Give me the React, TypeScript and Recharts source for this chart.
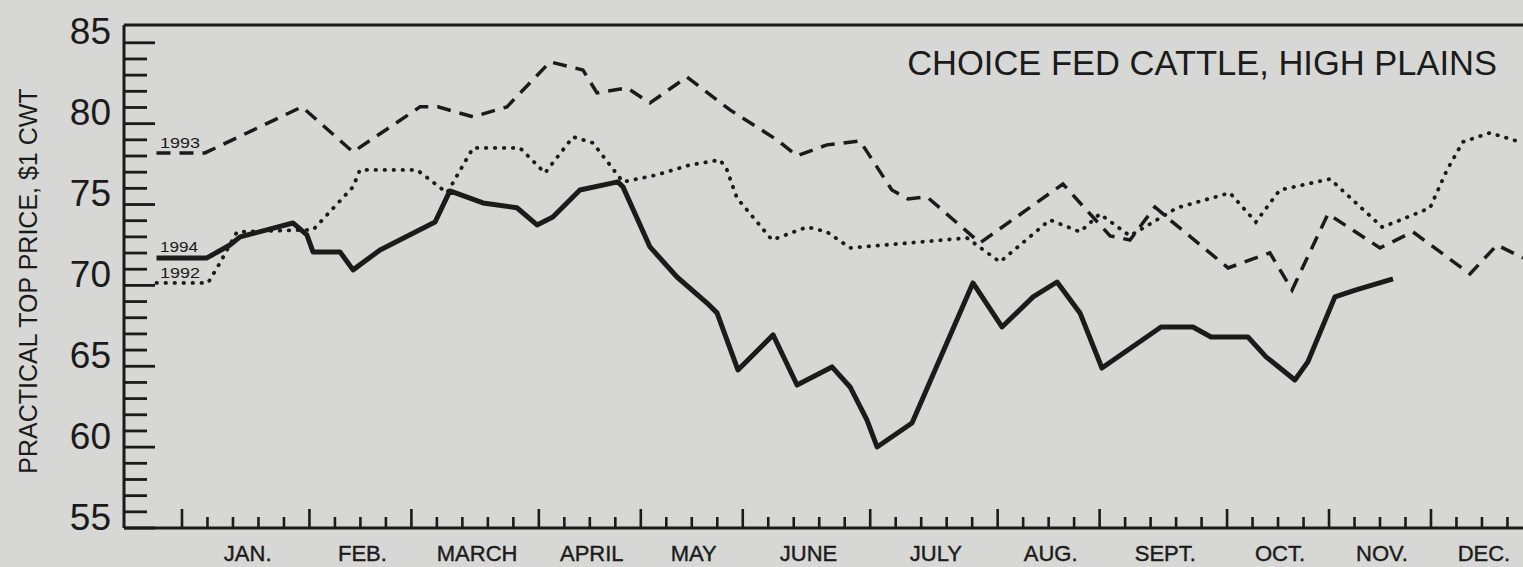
import React from "react";
import { LineChart, Line, XAxis, YAxis, ReferenceLine } from "recharts";

const INK = "#1b1b1b";
const PAPER = "#d7d7d5";
const FONT = "'Liberation Sans', Arial, sans-serif";

// w = week index (0 = first week of January), p = practical top price, $/cwt
const prices1994 = [
  { w: -1, p: 71.7 }, { w: 0.98, p: 71.7 }, { w: 1.88, p: 72.5 }, { w: 2.28, p: 73.0 },
  { w: 4.35, p: 73.86 }, { w: 4.9, p: 73.12 }, { w: 5.14, p: 72.07 }, { w: 6.2, p: 72.07 },
  { w: 6.71, p: 70.96 }, { w: 7.77, p: 72.19 }, { w: 9.93, p: 73.92 }, { w: 10.51, p: 75.84 },
  { w: 11.81, p: 75.1 }, { w: 13.14, p: 74.8 }, { w: 13.93, p: 73.74 }, { w: 14.55, p: 74.23 },
  { w: 15.61, p: 75.9 }, { w: 17.1, p: 76.4 }, { w: 17.3, p: 76.09 }, { w: 18.36, p: 72.38 },
  { w: 19.42, p: 70.52 }, { w: 20.6, p: 68.91 }, { w: 20.99, p: 68.3 }, { w: 21.81, p: 64.77 },
  { w: 23.19, p: 66.94 }, { w: 24.13, p: 63.84 }, { w: 25.5, p: 64.96 }, { w: 26.21, p: 63.72 },
  { w: 26.87, p: 61.68 }, { w: 27.27, p: 60.01 }, { w: 28.64, p: 61.49 }, { w: 31.03, p: 70.15 },
  { w: 32.17, p: 67.43 }, { w: 33.39, p: 69.29 }, { w: 34.33, p: 70.21 }, { w: 35.23, p: 68.3 },
  { w: 36.09, p: 64.89 }, { w: 38.41, p: 67.43 }, { w: 39.66, p: 67.43 }, { w: 40.37, p: 66.81 },
  { w: 41.82, p: 66.81 }, { w: 42.53, p: 65.58 }, { w: 43.66, p: 64.15 }, { w: 44.17, p: 65.27 },
  { w: 45.23, p: 69.29 }, { w: 46.06, p: 69.72 }, { w: 47.51, p: 70.4 },
];

const prices1993 = [
  { w: -1, p: 78.19 }, { w: 0.9, p: 78.19 }, { w: 4.71, p: 81.04 }, { w: 6.71, p: 78.25 },
  { w: 9.34, p: 81.04 }, { w: 10.04, p: 81.04 }, { w: 11.42, p: 80.42 }, { w: 12.75, p: 81.04 },
  { w: 14.44, p: 83.82 }, { w: 15.73, p: 83.32 }, { w: 16.28, p: 81.9 }, { w: 17.46, p: 82.21 },
  { w: 18.36, p: 81.28 }, { w: 19.81, p: 82.89 }, { w: 21.5, p: 80.85 }, { w: 23.34, p: 79.0 },
  { w: 24.13, p: 78.01 }, { w: 25.3, p: 78.69 }, { w: 26.6, p: 78.93 }, { w: 27.85, p: 75.9 },
  { w: 28.48, p: 75.35 }, { w: 29.23, p: 75.47 }, { w: 31.31, p: 72.63 }, { w: 34.56, p: 76.27 },
  { w: 36.41, p: 73.06 }, { w: 37.19, p: 72.81 }, { w: 38.17, p: 74.85 }, { w: 38.76, p: 74.05 },
  { w: 41.04, p: 71.08 }, { w: 42.68, p: 72.01 }, { w: 43.55, p: 69.72 }, { w: 44.96, p: 74.42 },
  { w: 47.0, p: 72.32 }, { w: 48.29, p: 73.31 }, { w: 50.53, p: 70.71 }, { w: 51.59, p: 72.5 },
  { w: 52.61, p: 71.7 },
];

const prices1992 = [
  { w: -1, p: 70.15 }, { w: 1.02, p: 70.15 }, { w: 1.49, p: 71.39 }, { w: 2.16, p: 73.31 },
  { w: 4.83, p: 73.43 }, { w: 5.14, p: 73.43 }, { w: 6.71, p: 76.09 }, { w: 6.98, p: 77.14 },
  { w: 9.22, p: 77.14 }, { w: 10.4, p: 75.72 }, { w: 11.42, p: 78.5 }, { w: 13.26, p: 78.5 },
  { w: 14.24, p: 76.95 }, { w: 15.34, p: 79.18 }, { w: 16.12, p: 78.81 }, { w: 17.3, p: 76.4 },
  { w: 18.63, p: 76.83 }, { w: 19.93, p: 77.45 }, { w: 21.11, p: 77.76 }, { w: 21.38, p: 77.14 },
  { w: 21.77, p: 75.41 }, { w: 23.15, p: 72.81 }, { w: 24.52, p: 73.61 }, { w: 25.3, p: 73.31 },
  { w: 26.21, p: 72.32 }, { w: 30.8, p: 72.93 }, { w: 32.09, p: 71.45 }, { w: 34.05, p: 74.05 },
  { w: 35.23, p: 73.31 }, { w: 36.01, p: 74.42 }, { w: 37.19, p: 73.06 }, { w: 39.03, p: 74.79 },
  { w: 41.11, p: 75.72 }, { w: 42.13, p: 73.92 }, { w: 43.07, p: 75.9 }, { w: 45.04, p: 76.58 },
  { w: 47.08, p: 73.61 }, { w: 47.51, p: 73.86 }, { w: 48.96, p: 74.79 }, { w: 49.63, p: 77.14 },
  { w: 50.25, p: 78.87 }, { w: 51.31, p: 79.43 }, { w: 52.61, p: 78.81 },
];

const monthNames = ["JAN.", "FEB.", "MARCH", "APRIL", "MAY", "JUNE", "JULY", "AUG.", "SEPT.", "OCT.", "NOV.", "DEC."];
const monthStartWeeks = [0, 5, 9, 14, 18, 22, 27, 32, 36, 41, 45, 49, 53];
const weekTicks = Array.from({ length: 53 }, (_, i) => i);
const priceTicks = Array.from({ length: 31 }, (_, i) => 55 + i);

const monthCenters = monthNames.map((_, i) => (monthStartWeeks[i] + monthStartWeeks[i + 1]) / 2);
const xTicks = Array.from(new Set([...weekTicks, ...monthCenters])).sort((a, b) => a - b);

const YTick = (props: any) => {
  const { x, y, payload } = props;
  const v = payload.value;
  const major = v % 5 === 0;
  return (
    <g>
      <line x1={x} x2={x + (major ? 31 : 23)} y1={y} y2={y} stroke={INK} strokeWidth={2.8} />
      {major && (
        <text x={x - 13} y={y - 11} textAnchor="end" dominantBaseline="central" fontSize={37} fontFamily={FONT} fill={INK}>
          {v}
        </text>
      )}
    </g>
  );
};

const XTick = (props: any) => {
  const { x, y, payload } = props;
  const v = payload.value;
  const isWeek = Number.isInteger(v) && v >= 0 && v <= 52;
  const long = monthStartWeeks.includes(v);
  const mIdx = monthCenters.indexOf(v);
  return (
    <g>
      {isWeek && <line x1={x} x2={x} y1={y} y2={y - (long ? 19 : 11)} stroke={INK} strokeWidth={2.6} />}
      {mIdx >= 0 && (
        <text x={x + 2} y={y + 25} textAnchor="middle" dominantBaseline="central" fontSize={22} fontFamily={FONT} fill={INK} stroke={INK} strokeWidth={0.4}>
          {monthNames[mIdx]}
        </text>
      )}
    </g>
  );
};

export default function App() {
  return (
    <div style={{ position: "absolute", left: 0, top: 0, width: 1523, height: 567, background: PAPER }}>
      <LineChart width={1523} height={567} margin={{ top: 25, right: 0, bottom: 0, left: 0 }}>
        <XAxis
          dataKey="w"
          type="number"
          domain={[-2.275, 52.61]}
          allowDataOverflow
          ticks={xTicks}
          interval={0}
          height={39}
          tickLine={false}
          tickSize={0}
          tickMargin={0}
          tick={<XTick />}
          axisLine={{ stroke: INK, strokeWidth: 3 }}
        />
        <YAxis
          type="number"
          domain={[55, 86.1]}
          allowDataOverflow
          ticks={priceTicks}
          interval={0}
          width={124}
          tickLine={false}
          tickSize={0}
          tickMargin={0}
          tick={<YTick />}
          axisLine={{ stroke: INK, strokeWidth: 3 }}
        />
        <ReferenceLine y={86.1} stroke={INK} strokeWidth={3} />
        <Line data={prices1993} dataKey="p" type="linear" stroke={INK} strokeWidth={3.5} strokeDasharray="14 9" dot={false} activeDot={false} isAnimationActive={false} />
        <Line data={prices1992} dataKey="p" type="linear" stroke={INK} strokeWidth={3.8} strokeDasharray="0.5 8.5" strokeLinecap="round" dot={false} activeDot={false} isAnimationActive={false} />
        <Line data={prices1994} dataKey="p" type="linear" stroke={INK} strokeWidth={5} strokeLinejoin="round" dot={false} activeDot={false} isAnimationActive={false} />
      </LineChart>
      <svg width={1523} height={567} style={{ position: "absolute", left: 0, top: 0, pointerEvents: "none" }}>
        <text x={1497} y={63} textAnchor="end" dominantBaseline="central" fontSize={34.5} fontFamily={FONT} fill={INK}>
          CHOICE FED CATTLE, HIGH PLAINS
        </text>
        <text x={28} y={281} transform="rotate(-90, 28, 281)" textAnchor="middle" dominantBaseline="central" fontSize={25} fontFamily={FONT} fill={INK}>
          PRACTICAL TOP PRICE, $1 CWT
        </text>
        <text x={160} y={142} textLength={40} lengthAdjust="spacingAndGlyphs" dominantBaseline="central" fontSize={15} fontFamily={FONT} fill={INK}>1993</text>
        <text x={160} y={246} textLength={38} lengthAdjust="spacingAndGlyphs" dominantBaseline="central" fontSize={15} fontFamily={FONT} fill={INK}>1994</text>
        <text x={160} y={272} textLength={40} lengthAdjust="spacingAndGlyphs" dominantBaseline="central" fontSize={15} fontFamily={FONT} fill={INK}>1992</text>
      </svg>
    </div>
  );
}
